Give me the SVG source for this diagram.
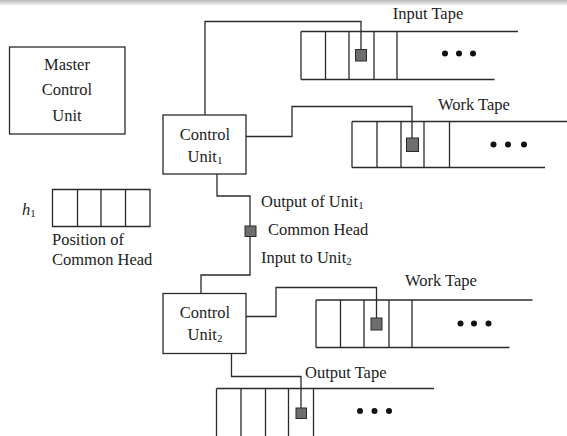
<svg xmlns="http://www.w3.org/2000/svg" width="567" height="436" viewBox="0 0 567 436">
<defs>
<linearGradient id="topbar" x1="0" y1="0" x2="0" y2="1">
<stop offset="0" stop-color="#b8b8b8"/>
<stop offset="1" stop-color="#ffffff"/>
</linearGradient>
</defs>
<style>
.box{fill:#fff;stroke:#2a2a2a;stroke-width:1.3}
.ln{fill:none;stroke:#2a2a2a;stroke-width:1.3}
.hd{fill:#6e6e6e;stroke:#2a2a2a;stroke-width:1}
.dot{fill:#111}
text{font-family:"Liberation Serif","Times New Roman",serif;font-size:16.5px;fill:#222}
.c{text-anchor:middle}
.sub{font-size:11px}
</style>
<rect x="0" y="0" width="567" height="6" fill="url(#topbar)"/>

<g id="master">
<rect class="box" x="9.5" y="47" width="115.5" height="87"/>
<text class="c" x="67" y="70">Master</text>
<text class="c" x="67" y="95">Control</text>
<text class="c" x="67" y="121">Unit</text>
</g>

<g id="cu1">
<rect class="box" x="163" y="115" width="83" height="59"/>
<text class="c" x="205" y="140">Control</text>
<text class="c" x="205" y="162">Unit<tspan class="sub" dy="2">1</tspan></text>
</g>

<g id="cu2">
<rect class="box" x="163" y="293.5" width="83" height="60"/>
<text class="c" x="205" y="318">Control</text>
<text class="c" x="205" y="340">Unit<tspan class="sub" dy="2">2</tspan></text>
</g>

<g id="input-tape">
<text class="c" x="428" y="19">Input Tape</text>
<path class="ln" d="M301,31.5H518M301,79.5H494.5M301,31.5V79.5M325.5,31.5V79.5M349,31.5V79.5M374,31.5V79.5M397,31.5V79.5"/>
<circle class="dot" cx="445" cy="53.5" r="3"/>
<circle class="dot" cx="459" cy="53.5" r="3"/>
<circle class="dot" cx="473" cy="53.5" r="3"/>
</g>

<g id="work-tape-1">
<text class="c" x="474" y="110">Work Tape</text>
<path class="ln" d="M352,121.5H567M352,167.5H545M352,121.5V167.5M377,121.5V167.5M401,121.5V167.5M424,121.5V167.5M449.5,121.5V167.5"/>
<circle class="dot" cx="493.5" cy="144.5" r="3"/>
<circle class="dot" cx="508" cy="144.5" r="3"/>
<circle class="dot" cx="524" cy="144.5" r="3"/>
</g>

<g id="work-tape-2">
<text class="c" x="441" y="286">Work Tape</text>
<path class="ln" d="M316,300H532.5M316,347.5H509.5M316,300V347.5M340.5,300V347.5M364,300V347.5M389,300V347.5M412,300V347.5"/>
<circle class="dot" cx="460.5" cy="323.5" r="3"/>
<circle class="dot" cx="474" cy="323.5" r="3"/>
<circle class="dot" cx="488.5" cy="323.5" r="3"/>
</g>

<g id="output-tape">
<text x="305" y="378">Output Tape</text>
<path class="ln" d="M216.5,388.5H434M216.5,388.5V436M241,388.5V436M265.5,388.5V436M288.5,388.5V436M313.5,388.5V436"/>
<circle class="dot" cx="360" cy="411" r="3"/>
<circle class="dot" cx="374.5" cy="411" r="3"/>
<circle class="dot" cx="389" cy="411" r="3"/>
</g>

<g id="common-head-position">
<path class="ln" d="M52.5,189.5H150V226.5H52.5ZM77.5,189.5V226.5M101,189.5V226.5M125.5,189.5V226.5"/>
<text x="22" y="215" font-style="italic">h<tspan class="sub" font-style="normal" dy="2">1</tspan></text>
<text x="52" y="245">Position of</text>
<text x="52" y="265">Common Head</text>
</g>

<g id="common-head-labels">
<text x="261" y="207">Output of Unit<tspan class="sub" dy="2">1</tspan></text>
<text x="268" y="235">Common Head</text>
<text x="261" y="263">Input to Unit<tspan class="sub" dy="2">2</tspan></text>
</g>

<g id="connectors">
<path class="ln" d="M205,115V21.5H361V49.5"/>
<path class="ln" d="M246,136.5H292V106.5H412V138"/>
<path class="ln" d="M217,174V196H250V226"/>
<path class="ln" d="M250,236.5V275H201V293.5"/>
<path class="ln" d="M246,316.5H276V287.5H376.5V318"/>
<path class="ln" d="M231.5,353.5V376.5H301V408"/>
</g>

<g id="heads">
<rect class="hd" x="355.5" y="49.5" width="11" height="11.5"/>
<rect class="hd" x="406.5" y="138" width="12" height="13.5"/>
<rect class="hd" x="245" y="226" width="11" height="10.5"/>
<rect class="hd" x="371" y="318" width="11" height="12"/>
<rect class="hd" x="296" y="408" width="10.5" height="10.5"/>
</g>
</svg>
